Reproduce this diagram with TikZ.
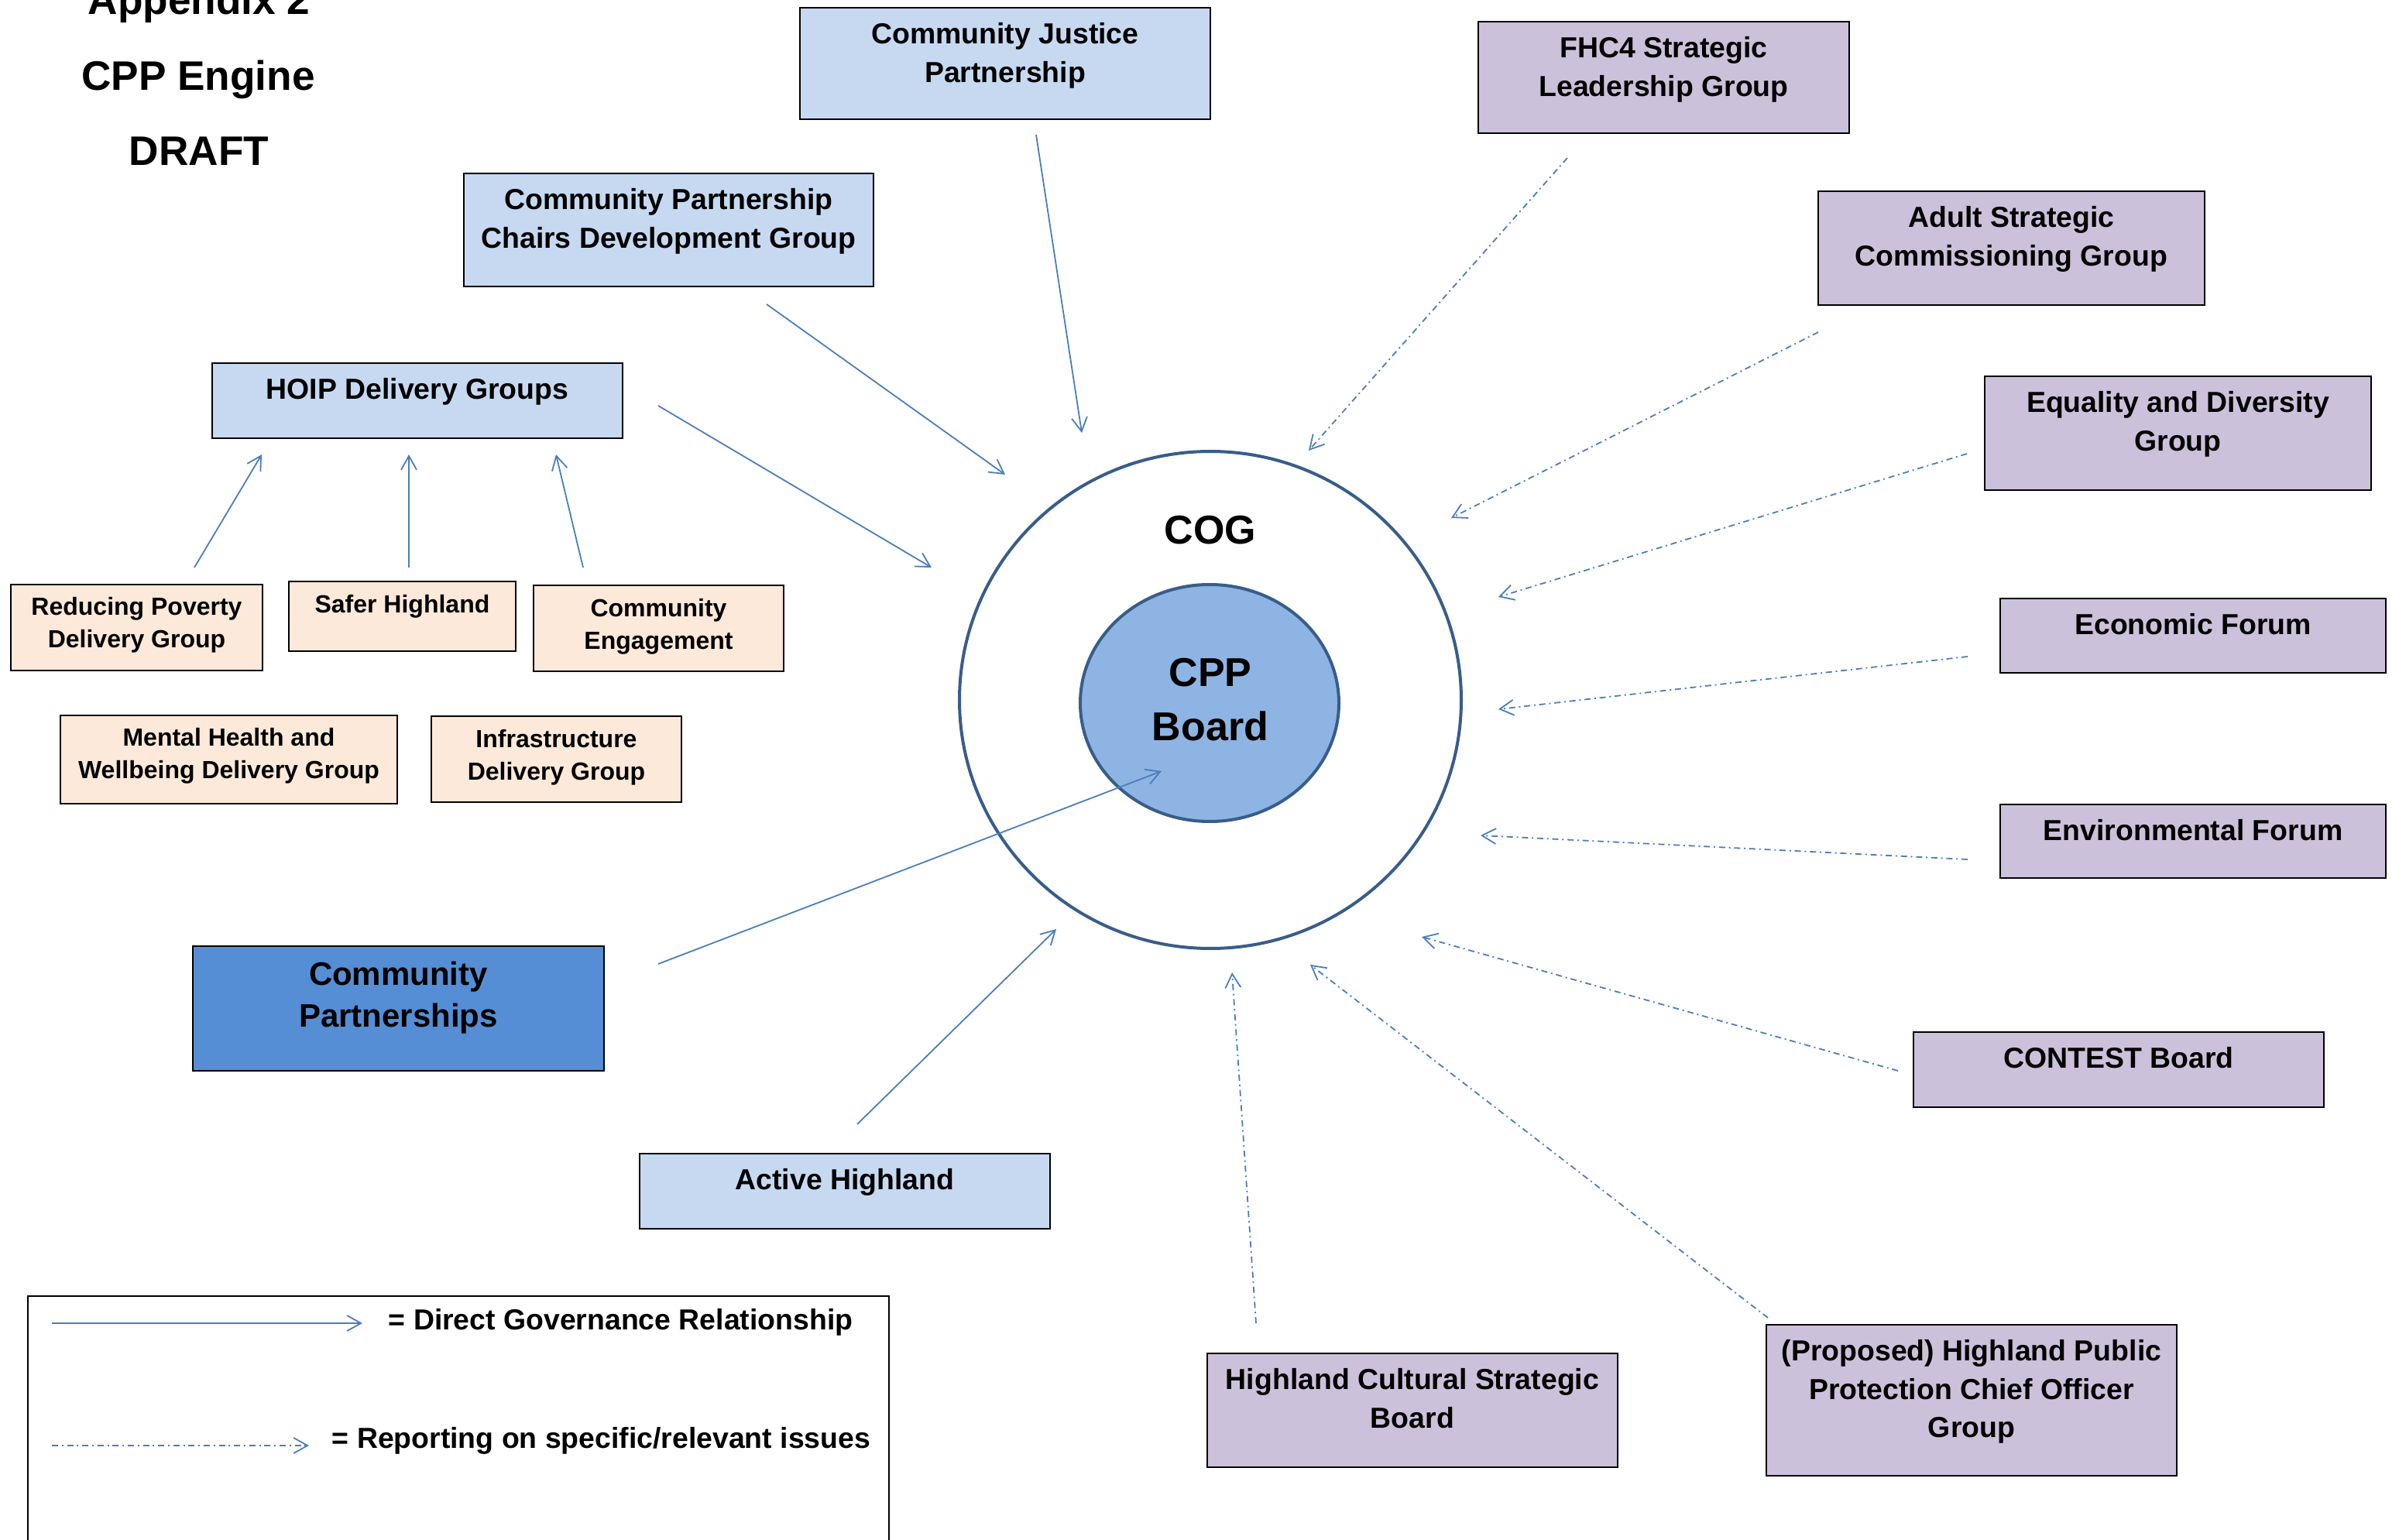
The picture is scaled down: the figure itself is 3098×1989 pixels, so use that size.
\documentclass[tikz,border=0pt]{standalone}
\usepackage{fontspec}
\setmainfont{Liberation Sans}
\usetikzlibrary{fit,arrows.meta,shapes.geometric}
\definecolor{lblue}{HTML}{C6D9F1}
\definecolor{lpurple}{HTML}{CCC1DA}
\definecolor{lpeach}{HTML}{FDE9D9}
\definecolor{mblue}{HTML}{558ED5}
\definecolor{cppfill}{HTML}{8EB4E3}
\definecolor{ringblue}{HTML}{385D8A}
\definecolor{arrowblue}{HTML}{4A7EBB}
\begin{document}
\begin{tikzpicture}[x=0.25pt, y=-0.25pt,
  box/.style={draw=black, line width=0.6pt, inner sep=0pt},
  bluebox/.style={box, fill=lblue},
  purplebox/.style={box, fill=lpurple},
  peachbox/.style={box, fill=lpeach},
  txt/.style={anchor=north, inner sep=0pt, align=center, font=\fontsize{9.35}{12.4}\selectfont\bfseries},
  smalltxt/.style={txt, font=\fontsize{8}{10.5}\selectfont\bfseries},
  bigtxt/.style={txt, font=\fontsize{10.5}{13.6}\selectfont\bfseries},
  titletxt/.style={anchor=base, inner sep=0pt, font=\fontsize{13.3}{16}\selectfont\bfseries},
  govarrow/.style={draw=arrowblue, line width=0.45pt, -{Straight Barb[length=4.5pt,width=5pt]}},
  reparrow/.style={govarrow, dash pattern=on 2pt off 1.2pt on 0.5pt off 1.2pt},
]
\useasboundingbox (0,0) rectangle (3098,1989);

% titles
\node[titletxt] (t1) at (257,19) {Appendix 2};
\node[titletxt] (t2) at (256,117) {CPP Engine};
\node[titletxt] (t3) at (257,214) {DRAFT};

% circles
\node[ellipse, draw=ringblue, line width=1pt, fill=white, minimum width=162pt, minimum height=160.5pt, inner sep=0pt] (cog) at (1563,904) {};
\node[ellipse, draw=ringblue, line width=1pt, fill=cppfill, minimum width=83.5pt, minimum height=76.5pt, inner sep=0pt] (cpp) at (1562,908) {};
\node[titletxt, font=\fontsize{13}{16}\selectfont\bfseries] (cogt) at (1563,703) {COG};
\node[anchor=center, inner sep=0pt, align=center, font=\fontsize{13}{17.5}\selectfont\bfseries] (cppt) at (1563,904) {CPP\\Board};

% boxes
\node[bluebox, fit={(1033,10) (1563,154)}] (cjp) {};
\node[txt] (cjpt) at ([yshift=-5pt]cjp.north) {Community Justice\\Partnership};

\node[purplebox, fit={(1909,28) (2388,172)}] (fhc) {};
\node[txt] (fhct) at ([yshift=-5pt]fhc.north) {FHC4 Strategic\\Leadership Group};

\node[bluebox, fit={(599,224) (1128,370)}] (chairs) {};
\node[txt] (chairst) at ([yshift=-5pt]chairs.north) {Community Partnership\\Chairs Development Group};

\node[purplebox, fit={(2348,247) (2847,394)}] (adult) {};
\node[txt] (adultt) at ([yshift=-5pt]adult.north) {Adult Strategic\\Commissioning Group};

\node[bluebox, fit={(274,469) (804,566)}] (hoip) {};
\node[txt] (hoipt) at ([yshift=-5pt]hoip.north) {HOIP Delivery Groups};

\node[purplebox, fit={(2563,486) (3062,633)}] (equal) {};
\node[txt] (equalt) at ([yshift=-5pt]equal.north) {Equality and Diversity\\Group};

\node[peachbox, fit={(14,755) (339,866)}] (poverty) {};
\node[smalltxt] (povertyt) at ([yshift=-4.25pt]poverty.north) {Reducing Poverty\\Delivery Group};

\node[peachbox, fit={(373,751) (666,841)}] (safer) {};
\node[smalltxt] (safert) at ([yshift=-4.5pt]safer.north) {Safer Highland};

\node[peachbox, fit={(689,756) (1012,867)}] (engage) {};
\node[smalltxt] (engaget) at ([yshift=-4.5pt]engage.north) {Community\\Engagement};

\node[purplebox, fit={(2583,773) (3081,869)}] (econ) {};
\node[txt] (econt) at ([yshift=-5pt]econ.north) {Economic Forum};

\node[peachbox, fit={(78,924) (513,1038)}] (mental) {};
\node[smalltxt] (mentalt) at ([yshift=-4.25pt]mental.north) {Mental Health and\\Wellbeing Delivery Group};

\node[peachbox, fit={(557,925) (880,1036)}] (infra) {};
\node[smalltxt] (infrat) at ([yshift=-4.5pt]infra.north) {Infrastructure\\Delivery Group};

\node[purplebox, fit={(2583,1039) (3081,1134)}] (env) {};
\node[txt] (envt) at ([yshift=-5pt]env.north) {Environmental Forum};

\node[box, fill=mblue, fit={(249,1222) (780,1383)}] (cp) {};
\node[bigtxt] (cpt) at ([yshift=-5pt]cp.north) {Community\\Partnerships};

\node[purplebox, fit={(2471,1333) (3001,1430)}] (contest) {};
\node[txt] (contestt) at ([yshift=-5pt]contest.north) {CONTEST Board};

\node[bluebox, fit={(826,1490) (1356,1587)}] (active) {};
\node[txt] (activet) at ([yshift=-5pt]active.north) {Active Highland};

\node[purplebox, fit={(1559,1748) (2089,1895)}] (cult) {};
\node[txt] (cultt) at ([yshift=-5pt]cult.north) {Highland Cultural Strategic\\Board};

\node[purplebox, fit={(2281,1711) (2811,1906)}] (prop) {};
\node[txt] (propt) at ([yshift=-5pt]prop.north) {(Proposed) Highland Public\\Protection Chief Officer\\Group};

% legend
\node[box, fill=white, fit={(36,1674) (1148,2010)}] (legend) {};
\coordinate (lg1a) at (67,1709);
\coordinate (lg1b) at (468,1709);
\coordinate (lg2a) at (67,1867);
\coordinate (lg2b) at (399,1867);
\draw[govarrow] (lg1a) -- (lg1b);
\draw[reparrow] (lg2a) -- (lg2b);
\node[anchor=base west, inner sep=0pt, font=\fontsize{9.35}{12.4}\selectfont\bfseries] (lg1t) at (501,1717) {= Direct Governance Relationship};
\node[anchor=base west, inner sep=0pt, font=\fontsize{9.35}{12.4}\selectfont\bfseries] (lg2t) at (428,1870) {= Reporting on specific/relevant issues};

% connector end points
\coordinate (a1) at (1338,174);  \coordinate (a2) at (1397,559);
\coordinate (b1) at (990,393);   \coordinate (b2) at (1298,613);
\coordinate (c1) at (850,524);   \coordinate (c2) at (1203,733);
\coordinate (d1) at (251,733);   \coordinate (d2) at (338,587);
\coordinate (e1) at (528,733);   \coordinate (e2) at (528,587);
\coordinate (f1) at (753,733);   \coordinate (f2) at (718,587);
\coordinate (g1) at (850,1245);  \coordinate (g2) at (1500,996);
\coordinate (h1) at (1107,1452); \coordinate (h2) at (1364,1200);
\coordinate (i1) at (2024,204);  \coordinate (i2) at (1690,582);
\coordinate (j1) at (2348,429);  \coordinate (j2) at (1874,669);
\coordinate (k1) at (2540,586);  \coordinate (k2) at (1935,771);
\coordinate (l1) at (2541,848);  \coordinate (l2) at (1935,916);
\coordinate (m1) at (2541,1110); \coordinate (m2) at (1912,1079);
\coordinate (n1) at (2451,1383); \coordinate (n2) at (1836,1210);
\coordinate (o1) at (1622,1709); \coordinate (o2) at (1591,1256);
\coordinate (p1) at (2283,1702); \coordinate (p2) at (1692,1246);

% direct governance
\draw[govarrow] (a1) -- (a2);
\draw[govarrow] (b1) -- (b2);
\draw[govarrow] (c1) -- (c2);
\draw[govarrow] (d1) -- (d2);
\draw[govarrow] (e1) -- (e2);
\draw[govarrow] (f1) -- (f2);
\draw[govarrow] (g1) -- (g2);
\draw[govarrow] (h1) -- (h2);

% reporting
\draw[reparrow] (i1) -- (i2);
\draw[reparrow] (j1) -- (j2);
\draw[reparrow] (k1) -- (k2);
\draw[reparrow] (l1) -- (l2);
\draw[reparrow] (m1) -- (m2);
\draw[reparrow] (n1) -- (n2);
\draw[reparrow] (o1) -- (o2);
\draw[reparrow] (p1) -- (p2);
\end{tikzpicture}
\end{document}
